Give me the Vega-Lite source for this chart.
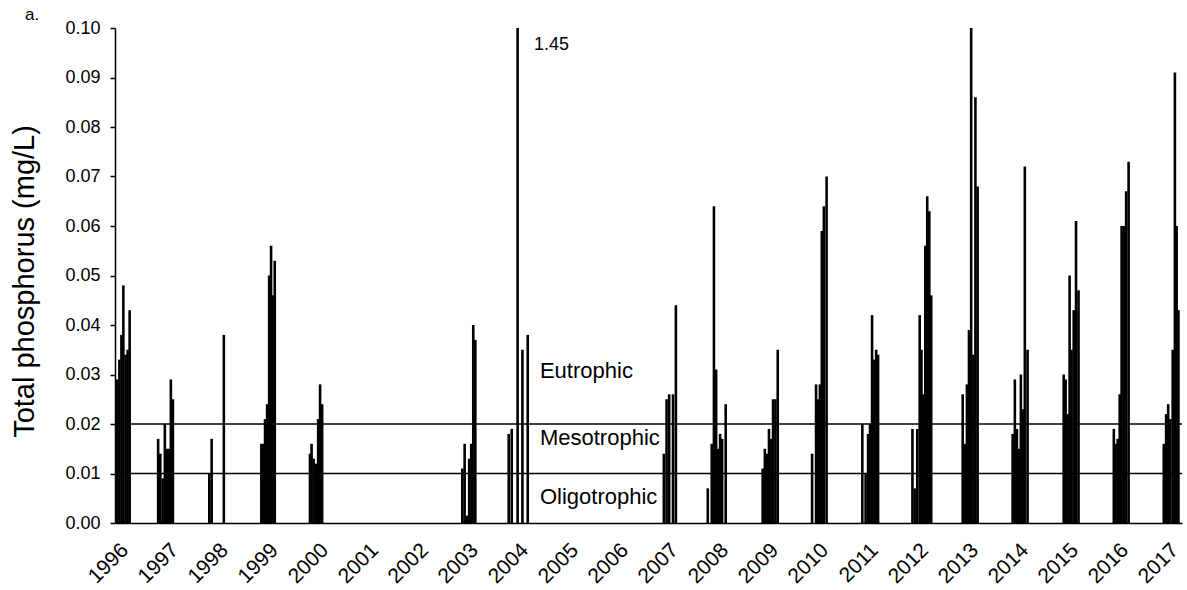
{
  "$schema": "https://vega.github.io/schema/vega-lite/v6.json",
  "width": 1067,
  "height": 495,
  "autosize": "none",
  "padding": {"left": 115, "top": 28, "right": 5, "bottom": 67},
  "background": "white",
  "config": {
    "view": {"stroke": null},
    "font": "Liberation Sans",
    "axisX": {"labelFontSize": 21, "labelFont": "Liberation Sans", "labelColor": "black"},
    "axisY": {"labelFontSize": 18, "labelFont": "Liberation Sans", "labelColor": "black"}
  },
  "title": {"text": "a.", "anchor": "start", "frame": "group", "dx": -90, "dy": 26, "offset": 8, "baseline": "alphabetic", "fontSize": 17, "fontWeight": "normal", "font": "Liberation Sans", "color": "black"},
  "layer": [
    {
      "data": {"values": [
        {"date": "1996-05-16", "tp": 0.029}, {"date": "1996-06-02", "tp": 0.033}, {"date": "1996-06-17", "tp": 0.038}, {"date": "1996-07-01", "tp": 0.048}, {"date": "1996-07-17", "tp": 0.034}, {"date": "1996-08-01", "tp": 0.035}, {"date": "1996-08-16", "tp": 0.043},
        {"date": "1997-03-12", "tp": 0.017}, {"date": "1997-03-28", "tp": 0.014}, {"date": "1997-04-14", "tp": 0.009}, {"date": "1997-04-30", "tp": 0.020}, {"date": "1997-05-16", "tp": 0.015}, {"date": "1997-05-31", "tp": 0.015}, {"date": "1997-06-13", "tp": 0.029}, {"date": "1997-06-28", "tp": 0.025},
        {"date": "1998-03-21", "tp": 0.010}, {"date": "1998-04-07", "tp": 0.017}, {"date": "1998-07-05", "tp": 0.038},
        {"date": "1999-04-05", "tp": 0.016}, {"date": "1999-04-18", "tp": 0.016}, {"date": "1999-05-02", "tp": 0.021}, {"date": "1999-05-17", "tp": 0.024}, {"date": "1999-06-01", "tp": 0.050}, {"date": "1999-06-15", "tp": 0.056}, {"date": "1999-06-29", "tp": 0.046}, {"date": "1999-07-12", "tp": 0.053},
        {"date": "2000-03-25", "tp": 0.014}, {"date": "2000-04-06", "tp": 0.016}, {"date": "2000-04-21", "tp": 0.013}, {"date": "2000-05-08", "tp": 0.012}, {"date": "2000-05-24", "tp": 0.021}, {"date": "2000-06-07", "tp": 0.028}, {"date": "2000-06-22", "tp": 0.024},
        {"date": "2003-04-12", "tp": 0.011}, {"date": "2003-04-29", "tp": 0.016}, {"date": "2003-05-16", "tp": 0.0015}, {"date": "2003-06-01", "tp": 0.013}, {"date": "2003-06-16", "tp": 0.016}, {"date": "2003-07-01", "tp": 0.040}, {"date": "2003-07-16", "tp": 0.037},
        {"date": "2004-03-16", "tp": 0.018}, {"date": "2004-04-07", "tp": 0.019}, {"date": "2004-05-20", "tp": 1.45}, {"date": "2004-06-24", "tp": 0.035}, {"date": "2004-08-02", "tp": 0.038},
        {"date": "2007-04-23", "tp": 0.014}, {"date": "2007-05-13", "tp": 0.025}, {"date": "2007-06-01", "tp": 0.026}, {"date": "2007-06-29", "tp": 0.026}, {"date": "2007-07-20", "tp": 0.044},
        {"date": "2008-03-09", "tp": 0.007}, {"date": "2008-04-07", "tp": 0.016}, {"date": "2008-04-23", "tp": 0.064}, {"date": "2008-05-09", "tp": 0.031}, {"date": "2008-05-24", "tp": 0.015}, {"date": "2008-06-07", "tp": 0.018}, {"date": "2008-06-22", "tp": 0.017}, {"date": "2008-07-18", "tp": 0.024},
        {"date": "2009-04-14", "tp": 0.011}, {"date": "2009-04-30", "tp": 0.015}, {"date": "2009-05-15", "tp": 0.014}, {"date": "2009-05-30", "tp": 0.019}, {"date": "2009-06-13", "tp": 0.017}, {"date": "2009-06-29", "tp": 0.025}, {"date": "2009-07-16", "tp": 0.025}, {"date": "2009-08-02", "tp": 0.035},
        {"date": "2010-04-10", "tp": 0.014}, {"date": "2010-05-09", "tp": 0.028}, {"date": "2010-05-24", "tp": 0.025}, {"date": "2010-06-06", "tp": 0.028}, {"date": "2010-06-20", "tp": 0.059}, {"date": "2010-07-05", "tp": 0.064}, {"date": "2010-07-25", "tp": 0.070},
        {"date": "2011-04-12", "tp": 0.020}, {"date": "2011-05-06", "tp": 0.010}, {"date": "2011-05-24", "tp": 0.018}, {"date": "2011-06-07", "tp": 0.020}, {"date": "2011-06-22", "tp": 0.042}, {"date": "2011-07-07", "tp": 0.033}, {"date": "2011-07-22", "tp": 0.035}, {"date": "2011-08-05", "tp": 0.034},
        {"date": "2012-04-12", "tp": 0.019}, {"date": "2012-04-28", "tp": 0.007}, {"date": "2012-05-17", "tp": 0.019}, {"date": "2012-06-04", "tp": 0.042}, {"date": "2012-06-17", "tp": 0.035}, {"date": "2012-06-30", "tp": 0.026}, {"date": "2012-07-15", "tp": 0.056}, {"date": "2012-07-29", "tp": 0.066}, {"date": "2012-08-13", "tp": 0.063}, {"date": "2012-08-27", "tp": 0.046},
        {"date": "2013-04-14", "tp": 0.026}, {"date": "2013-04-30", "tp": 0.016}, {"date": "2013-05-15", "tp": 0.028}, {"date": "2013-05-30", "tp": 0.039}, {"date": "2013-06-15", "tp": 0.100}, {"date": "2013-07-01", "tp": 0.034}, {"date": "2013-07-16", "tp": 0.086}, {"date": "2013-08-01", "tp": 0.068},
        {"date": "2014-04-14", "tp": 0.018}, {"date": "2014-04-30", "tp": 0.029}, {"date": "2014-05-15", "tp": 0.019}, {"date": "2014-05-30", "tp": 0.015}, {"date": "2014-06-13", "tp": 0.030}, {"date": "2014-06-28", "tp": 0.023}, {"date": "2014-07-12", "tp": 0.072}, {"date": "2014-08-01", "tp": 0.035},
        {"date": "2015-04-22", "tp": 0.030}, {"date": "2015-05-06", "tp": 0.029}, {"date": "2015-05-20", "tp": 0.022}, {"date": "2015-06-04", "tp": 0.050}, {"date": "2015-06-18", "tp": 0.035}, {"date": "2015-07-04", "tp": 0.043}, {"date": "2015-07-21", "tp": 0.061}, {"date": "2015-08-08", "tp": 0.047},
        {"date": "2016-04-22", "tp": 0.019}, {"date": "2016-05-06", "tp": 0.016}, {"date": "2016-05-20", "tp": 0.017}, {"date": "2016-06-04", "tp": 0.026}, {"date": "2016-06-18", "tp": 0.060}, {"date": "2016-07-04", "tp": 0.060}, {"date": "2016-07-21", "tp": 0.067}, {"date": "2016-08-08", "tp": 0.073},
        {"date": "2017-04-22", "tp": 0.016}, {"date": "2017-05-09", "tp": 0.022}, {"date": "2017-05-24", "tp": 0.024}, {"date": "2017-06-09", "tp": 0.021}, {"date": "2017-06-26", "tp": 0.035}, {"date": "2017-07-12", "tp": 0.091}, {"date": "2017-07-25", "tp": 0.060}, {"date": "2017-08-07", "tp": 0.043}
      ]},
      "mark": {"type": "bar", "color": "black", "width": 2.6, "clip": true},
      "encoding": {
        "x": {
          "field": "date", "type": "temporal",
          "scale": {"domain": [{"year": 1996, "month": 5, "date": 1, "utc": true}, {"year": 2017, "month": 9, "date": 2, "utc": true}], "padding": 0},
          "axis": {
            "values": [
              {"year": 1996, "month": 5, "date": 15, "utc": true}, {"year": 1997, "month": 5, "date": 15, "utc": true}, {"year": 1998, "month": 5, "date": 15, "utc": true}, {"year": 1999, "month": 5, "date": 15, "utc": true},
              {"year": 2000, "month": 5, "date": 15, "utc": true}, {"year": 2001, "month": 5, "date": 15, "utc": true}, {"year": 2002, "month": 5, "date": 15, "utc": true}, {"year": 2003, "month": 5, "date": 15, "utc": true},
              {"year": 2004, "month": 5, "date": 15, "utc": true}, {"year": 2005, "month": 5, "date": 15, "utc": true}, {"year": 2006, "month": 5, "date": 15, "utc": true}, {"year": 2007, "month": 5, "date": 15, "utc": true},
              {"year": 2008, "month": 5, "date": 15, "utc": true}, {"year": 2009, "month": 5, "date": 15, "utc": true}, {"year": 2010, "month": 5, "date": 15, "utc": true}, {"year": 2011, "month": 5, "date": 15, "utc": true},
              {"year": 2012, "month": 5, "date": 15, "utc": true}, {"year": 2013, "month": 5, "date": 15, "utc": true}, {"year": 2014, "month": 5, "date": 15, "utc": true}, {"year": 2015, "month": 5, "date": 15, "utc": true},
              {"year": 2016, "month": 5, "date": 15, "utc": true}, {"year": 2017, "month": 5, "date": 15, "utc": true}
            ],
            "labelExpr": "utcFormat(datum.value, '%Y')",
            "labelAngle": -45,
            "labelFontSize": 21,
            "labelFont": "Liberation Sans",
            "labelColor": "black",
            "labelPadding": 16,
            "labelFlush": false,
            "labelOverlap": false,
            "labelBound": false,
            "ticks": false,
            "tickSize": 0,
            "domainColor": "black",
            "domainWidth": 1.5,
            "grid": false,
            "title": null
          }
        },
        "y": {
          "field": "tp", "type": "quantitative",
          "scale": {"domain": [0, 0.1]},
          "axis": {
            "values": [0, 0.01, 0.02, 0.03, 0.04, 0.05, 0.06, 0.07, 0.08, 0.09, 0.1],
            "format": ".2f",
            "title": "Total phosphorus (mg/L)",
            "titleFontSize": 29,
            "titleFontWeight": "normal",
            "titleFont": "Liberation Sans",
            "titleColor": "black",
            "titleAngle": 270,
            "titleBaseline": "top",
            "titleAlign": "center",
            "titleX": -105,
            "titleY": 253,
            "labelFontSize": 18,
            "labelFont": "Liberation Sans",
            "labelColor": "black",
            "labelPadding": 10,
            "tickSize": 5,
            "tickColor": "black",
            "tickWidth": 1.5,
            "domainColor": "black",
            "domainWidth": 1.5,
            "grid": false
          }
        }
      }
    },
    {
      "data": {"values": [{"tp": 0.01}, {"tp": 0.02}]},
      "mark": {"type": "rule", "color": "black", "strokeWidth": 1.5},
      "encoding": {"y": {"field": "tp", "type": "quantitative"}}
    },
    {
      "data": {"values": [
        {"date": "2004-10-30", "tp": 0.0308, "label": "Eutrophic"},
        {"date": "2004-10-30", "tp": 0.0171, "label": "Mesotrophic"},
        {"date": "2004-10-30", "tp": 0.0052, "label": "Oligotrophic"}
      ]},
      "mark": {"type": "text", "align": "left", "baseline": "middle", "fontSize": 22, "font": "Liberation Sans", "color": "black"},
      "encoding": {
        "x": {"field": "date", "type": "temporal"},
        "y": {"field": "tp", "type": "quantitative"},
        "text": {"field": "label"}
      }
    },
    {
      "data": {"values": [{"date": "2004-09-16", "tp": 0.0965, "label": "1.45"}]},
      "mark": {"type": "text", "align": "left", "baseline": "middle", "fontSize": 18, "font": "Liberation Sans", "color": "black"},
      "encoding": {
        "x": {"field": "date", "type": "temporal"},
        "y": {"field": "tp", "type": "quantitative"},
        "text": {"field": "label"}
      }
    }
  ]
}
